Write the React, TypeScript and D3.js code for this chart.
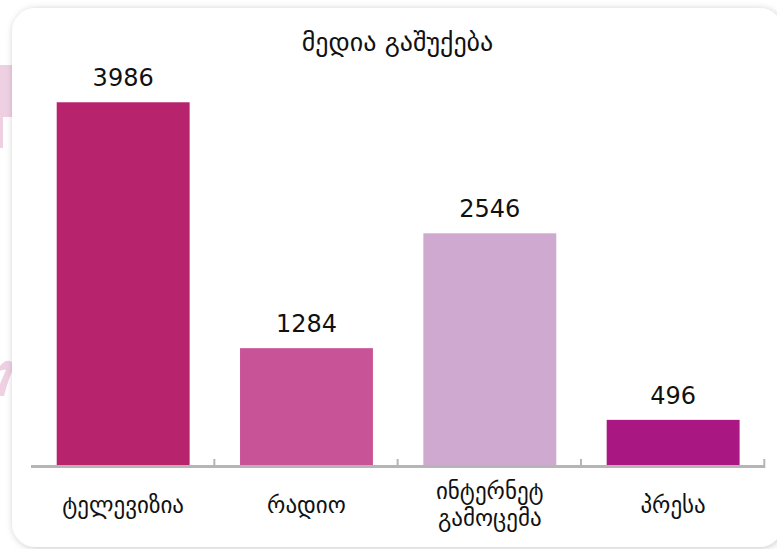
import React from 'react';
import * as d3 from 'd3';

const title = 'მედია გაშუქება';
const categories = ['ტელევიზია', 'რადიო', 'ინტერნეტ გამოცემა', 'პრესა'];
const values = [3986, 1284, 2546, 496];
const barColors = ['#b7246d', '#c95397', '#d0a9d1', '#a91882'];

const W = 777;
const H = 549;

const App = () => {
  // x positions line up with the tick marks at the band edges
  const x = d3.scaleBand<string>()
    .domain(categories)
    .range([31.5, 764.8])
    .paddingInner(0.275)
    .paddingOuter(0.1375);

  const y = d3.scaleLinear()
    .domain([0, 4000])
    .range([465, 101]);

  const step = x.step();
  const left = 31;
  const baseY = y(0);

  return (
    <svg width={W} height={H} style={{ position: 'absolute', left: 0, top: 0, display: 'block' }}>
      <defs>
        <filter id="cardShadow" x="-5%" y="-5%" width="110%" height="110%">
          <feDropShadow dx="1" dy="1" stdDeviation="3.5" floodColor="#000" floodOpacity="0.22" />
        </filter>
      </defs>
      <rect x={0} y={0} width={W} height={H} fill="#fff" />

      {/* faint decoration peeking out behind the card */}
      <g fill="#efd0e3">
        <rect x={0} y={65} width={12} height={52} />
        <rect x={0} y={117} width={3} height={31} />
        <path d="M0,366 Q6,358 12,362 L12,372 Q8,380 4,396 L0,396 L0,384 Q4,374 6,370 Q3,369 0,371 Z" />
      </g>

      <rect x={12} y={8} width={771} height={539} rx={24} ry={24} fill="#fff" filter="url(#cardShadow)" />

      <text
        x={397.5}
        y={43}
        textAnchor="middle"
        dominantBaseline="middle"
        fontFamily="'DejaVu Sans', sans-serif"
        fontSize={26}
        fill="#111"
      >
        {title}
      </text>

      {categories.map((c, i) => {
        const bx = x(c) as number;
        const top = y(values[i]);
        return (
          <g key={c}>
            <rect x={bx} y={top} width={x.bandwidth()} height={baseY - top} fill={barColors[i]} />
            <text
              x={bx + x.bandwidth() / 2}
              y={top - 16}
              textAnchor="middle"
              fontFamily="'DejaVu Sans', sans-serif"
              fontSize={24}
              fill="#111"
            >
              {values[i]}
            </text>
          </g>
        );
      })}

      {/* axis line and ticks at the right edge of each band */}
      <line x1={left} x2={left + step * categories.length + 1} y1={baseY + 1.5} y2={baseY + 1.5} stroke="#b5b5b5" strokeWidth={3} />
      {categories.map((c, i) => {
        const tx = left + step * (i + 1);
        return <line key={'t' + c} x1={tx} x2={tx} y1={baseY - 6} y2={baseY} stroke="#b5b5b5" strokeWidth={2} />;
      })}

      {categories.map((c) => {
        const lines = c.split(' ');
        const cx = (x(c) as number) + x.bandwidth() / 2;
        const lh = 27;
        const y0 = 506 - ((lines.length - 1) * lh) / 2;
        return (
          <text
            key={'l' + c}
            x={cx}
            textAnchor="middle"
            fontFamily="'DejaVu Sans', sans-serif"
            fontSize={23}
            fill="#111"
          >
            {lines.map((ln, j) => (
              <tspan key={j} x={cx} y={y0 + j * lh} dominantBaseline="middle">{ln}</tspan>
            ))}
          </text>
        );
      })}
    </svg>
  );
};

export default App;
